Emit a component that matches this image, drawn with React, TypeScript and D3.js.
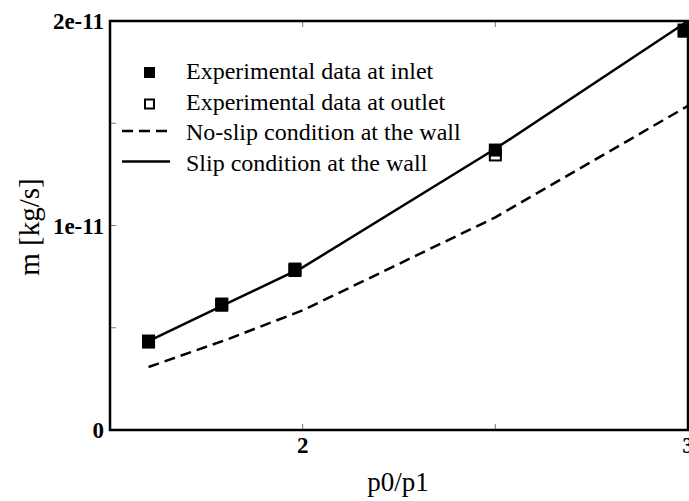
import React, { useEffect, useRef } from "react";
import * as d3 from "d3";

const pressureRatio = [1.6, 1.79, 1.98, 2.5, 2.99];
const inletFlow = [0.435e-11, 0.616e-11, 0.787e-11, 1.369e-11, 1.956e-11];
const outletFlow = [0.43e-11, 0.61e-11, 0.78e-11, 1.345e-11, 1.95e-11];

const modelRatio = [1.6, 1.8, 2.0, 2.5, 3.0];
const slipFlow = [0.435e-11, 0.615e-11, 0.795e-11, 1.375e-11, 2.0e-11];
const noSlipFlow = [0.308e-11, 0.44e-11, 0.585e-11, 1.04e-11, 1.585e-11];

const xTickLabels = [2, 3];
const yTickLabels = [0, 1e-11, 2e-11];
const xMinorTicks = [2, 2.5];
const yMinorTicks = [0.5e-11, 1e-11, 1.5e-11];

const legendItems = [
    { label: "Experimental data at inlet", kind: "filled" },
    { label: "Experimental data at outlet", kind: "open" },
    { label: "No-slip condition at the wall", kind: "dashed" },
    { label: "Slip condition at the wall", kind: "solid" },
];

const W = 689;
const H = 501;
const margin = { top: 21, right: 1, bottom: 71, left: 110 };
const serif = "'Liberation Serif', 'Times New Roman', serif";
const dash = "11,6";

const formatY = (v: number) => (v === 0 ? "0" : `${Math.round(v * 1e11)}e-11`);

const drawChart = (ref: SVGSVGElement) => {
    const svg = d3.select(ref);
    svg.selectAll("*").remove();

    const x = d3.scaleLinear().domain([1.5, 3]).range([margin.left, W - margin.right]);
    const y = d3.scaleLinear().domain([0, 2e-11]).range([H - margin.bottom, margin.top]);

    const g = svg.append("g");

    // minor ticks, inward
    xMinorTicks.forEach((t) => {
        g.append("line")
            .attr("x1", x(t)).attr("x2", x(t))
            .attr("y1", y(0)).attr("y2", y(0) - 6)
            .attr("stroke", "#777").attr("stroke-width", 1);
        g.append("line")
            .attr("x1", x(t)).attr("x2", x(t))
            .attr("y1", y(2e-11)).attr("y2", y(2e-11) + 6)
            .attr("stroke", "#777").attr("stroke-width", 1);
    });
    yMinorTicks.forEach((t) => {
        g.append("line")
            .attr("x1", x(1.5)).attr("x2", x(1.5) + 6)
            .attr("y1", y(t)).attr("y2", y(t))
            .attr("stroke", "#777").attr("stroke-width", 1);
    });

    // model curves
    const curve = (vals: number[]) =>
        d3.line<number>()
            .x((_, i) => x(modelRatio[i]))
            .y((d) => y(d))(vals);

    g.append("path")
        .attr("d", curve(noSlipFlow))
        .attr("fill", "none")
        .attr("stroke", "#000")
        .attr("stroke-width", 2.5)
        .attr("stroke-dasharray", dash);

    g.append("path")
        .attr("d", curve(slipFlow))
        .attr("fill", "none")
        .attr("stroke", "#000")
        .attr("stroke-width", 2.5);

    // experimental markers (outlet below inlet)
    const ms = 13;
    g.selectAll(".outlet")
        .data(outletFlow)
        .enter()
        .append("rect")
        .attr("x", (d, i) => x(pressureRatio[i]) - ms / 2 + 1)
        .attr("y", (d) => y(d) - ms / 2 + 1)
        .attr("width", ms - 2)
        .attr("height", ms - 2)
        .attr("fill", "#fff")
        .attr("stroke", "#000")
        .attr("stroke-width", 2);

    g.selectAll(".inlet")
        .data(inletFlow)
        .enter()
        .append("rect")
        .attr("x", (d, i) => x(pressureRatio[i]) - ms / 2)
        .attr("y", (d) => y(d) - ms / 2)
        .attr("width", ms)
        .attr("height", ms)
        .attr("fill", "#000");

    // frame
    g.append("rect")
        .attr("x", margin.left)
        .attr("y", margin.top)
        .attr("width", W - margin.right - margin.left)
        .attr("height", H - margin.bottom - margin.top)
        .attr("fill", "none")
        .attr("stroke", "#000")
        .attr("stroke-width", 2.5);

    // tick labels
    xTickLabels.forEach((t) => {
        g.append("text")
            .attr("x", x(t))
            .attr("y", y(0) + 23)
            .attr("text-anchor", "middle")
            .style("font-family", serif)
            .style("font-weight", "bold")
            .style("font-size", "23px")
            .text(t);
    });
    yTickLabels.forEach((t) => {
        g.append("text")
            .attr("x", margin.left - 6)
            .attr("y", y(t) + 8)
            .attr("text-anchor", "end")
            .style("font-family", serif)
            .style("font-weight", "bold")
            .style("font-size", "23px")
            .text(formatY(t));
    });

    // axis titles
    g.append("text")
        .attr("x", 398)
        .attr("y", 491)
        .attr("text-anchor", "middle")
        .style("font-family", serif)
        .style("font-size", "27px")
        .text("p0/p1");
    g.append("text")
        .attr("transform", `translate(39,227) rotate(-90)`)
        .attr("text-anchor", "middle")
        .style("font-family", serif)
        .style("font-size", "29px")
        .text("m [kg/s]");

    // legend
    const lg = g.append("g");
    legendItems.forEach((item, i) => {
        const base = 79 + i * 30.5;
        if (item.kind === "filled") {
            lg.append("rect").attr("x", 144).attr("y", base - 12).attr("width", 11).attr("height", 11).attr("fill", "#000");
        } else if (item.kind === "open") {
            lg.append("rect").attr("x", 145).attr("y", base - 10).attr("width", 9).attr("height", 9)
                .attr("fill", "#fff").attr("stroke", "#000").attr("stroke-width", 2);
        } else {
            lg.append("line")
                .attr("x1", 122).attr("x2", 170)
                .attr("y1", base - 9).attr("y2", base - 9)
                .attr("stroke", "#000")
                .attr("stroke-width", 2.5)
                .attr("stroke-dasharray", item.kind === "dashed" ? dash : null);
        }
        lg.append("text")
            .attr("x", 186)
            .attr("y", base)
            .style("font-family", serif)
            .style("font-size", "24px")
            .text(item.label);
    });
};

export default function App() {
    const svgRef = useRef<SVGSVGElement>(null);

    useEffect(() => {
        if (svgRef.current) drawChart(svgRef.current);
    }, []);

    return (
        <div style={{ position: "absolute", left: 0, top: 0, background: "#fff" }}>
            <svg ref={svgRef} width={W} height={H} style={{ display: "block" }} />
        </div>
    );
}
